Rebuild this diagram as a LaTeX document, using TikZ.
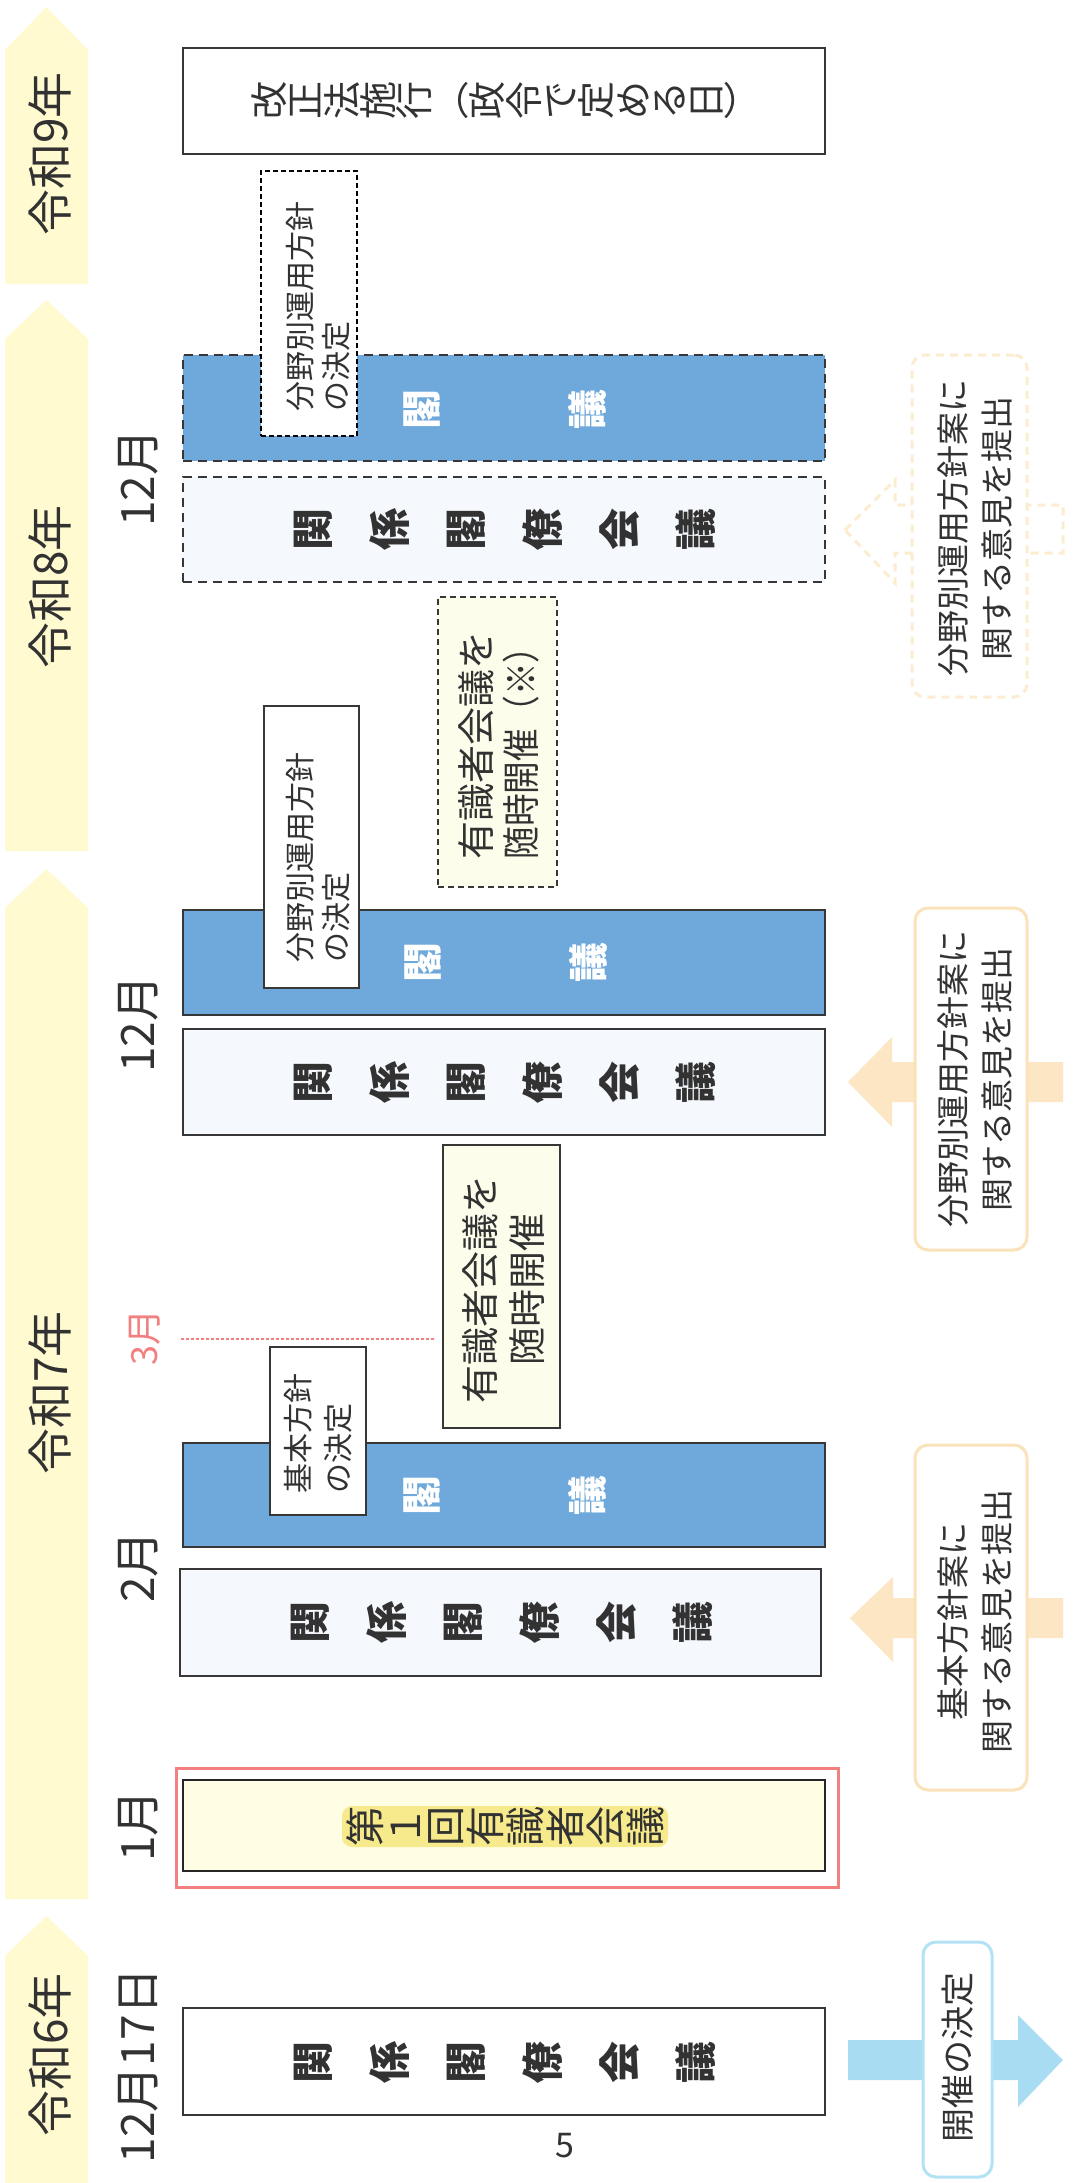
\documentclass[tikz,border=0pt]{standalone}
\usepackage{fontspec}
\usepackage{graphicx}
\setmainfont{Noto Sans CJK JP}
\usetikzlibrary{fit}
\definecolor{yrcol}{RGB}{255,250,208}
\definecolor{txt}{RGB}{50,50,50}
\definecolor{bord}{RGB}{55,55,55}
\definecolor{kblue}{RGB}{111,169,220}
\definecolor{kfill}{RGB}{245,248,252}
\definecolor{cream}{RGB}{253,253,236}
\definecolor{cream2}{RGB}{255,253,228}
\definecolor{hilite}{RGB}{247,234,140}
\definecolor{salmon}{RGB}{242,128,128}
\definecolor{peach}{RGB}{252,230,195}
\definecolor{peachb}{RGB}{250,226,186}
\definecolor{peachf}{RGB}{252,237,208}
\definecolor{skyf}{RGB}{168,220,243}
\definecolor{skyb}{RGB}{180,226,245}
\tikzset{
  yrarrow/.style={fill=yrcol, draw=none},
  ytext/.style={rotate=90, inner sep=0pt, text=txt, font=\fontsize{23}{27}\selectfont},
  mainbox/.style={draw=bord, line width=1pt, inner sep=0pt},
  bigdash/.style={dash pattern=on 4.5pt off 3pt},
  vt/.style={rotate=90, align=center, inner sep=0pt, text=txt,
    execute at begin node={\lineskiplimit=-100pt\lineskip=0pt}},
  ktext/.style={vt, font={\fontsize{21}{38.3}\selectfont\bfseries}},
  gtext/.style={vt, text=white, font={\fontsize{20}{83}\selectfont\bfseries}},
  notetext/.style={vt, align=left, font={\fontsize{15}{18}\selectfont}},
  utext/.style={vt, font={\fontsize{19}{22.5}\selectfont}},
  rbox/.style={fill=white, line width=1.5pt, rounded corners=6.5pt, inner sep=0pt},
  rtext/.style={vt, font={\fontsize{16.5}{22}\selectfont}}
}
\begin{document}
\begin{tikzpicture}[x=0.5pt,y=-0.5pt]
\useasboundingbox (0,0) rectangle (1073,2183);
\fill[white] (0,0) rectangle (1073,2183);

% year arrows
\fill[yrarrow] (46.5,7) -- (88,50) -- (88,284) -- (5,284) -- (5,50) -- cycle;
\fill[yrarrow] (46.5,300) -- (88,339) -- (88,851) -- (5,851) -- (5,339) -- cycle;
\fill[yrarrow] (46.5,869) -- (88,908) -- (88,1899) -- (5,1899) -- (5,908) -- cycle;
\fill[yrarrow] (46.5,1916) -- (88,1956) -- (88,2183) -- (5,2183) -- (5,1956) -- cycle;
\node[ytext] (y9) at (50,154) {令和9年};
\node[ytext] (y8) at (50,587) {令和8年};
\node[ytext] (y7) at (50,1393) {令和7年};
\node[ytext] (y6) at (50,2055) {令和6年};

% months
\node[ytext] (m12b) at (138,478) {12月};
\node[ytext] (m12a) at (138,1024) {12月};
\node[ytext, text=salmon, font=\fontsize{18}{22}\selectfont] (m3) at (145,1337) {3月};
\node[ytext] (m2) at (138,1567) {2月};
\node[ytext] (m1) at (138,1826) {1月};
\node[ytext] (m1217) at (138,2066) {12月17日};

% Reiwa 9
\node[mainbox, fill=white, fit={(183,48) (825,154)}] (b9) {};
\node[vt, font={\fontsize{19}{18.2}\selectfont}] (b9t) at (504,101) {改\\正\\法\\施\\行\\︵\\政\\令\\で\\定\\め\\る\\日\\︶};

% Reiwa 8
\node[mainbox, bigdash, fill=kblue, fit={(183,355) (825,461)}] (g8) {};
\node[gtext] (g8t) at (505.5,409) {閣\\議};
\node[mainbox, draw=black, dash pattern=on 2.5pt off 1.5pt, fill=white, fit={(261,171) (357,436)}] (f8) {};
\node[notetext] (f8t) at (318,306) {分野別運用方針\\の決定};
\node[mainbox, bigdash, fill=kfill, fit={(183,477) (825,582)}] (k8) {};
\node[ktext] (k8t) at (505,529.5) {関\\係\\閣\\僚\\会\\議};
\node[mainbox, dash pattern=on 3pt off 2pt, fill=cream, fit={(438,597) (557,887)}] (u8) {};
\node[utext] (u8t) at (498.5,745) {有識者会議を\\\scalebox{0.86}[1]{随時開催（※）}};

% Reiwa 7 December
\node[mainbox, fill=kblue, fit={(183,910) (825,1015)}] (g7) {};
\node[gtext] (g7t) at (506.5,962) {閣\\議};
\node[mainbox, fill=white, fit={(263.5,706) (359,988)}] (f7) {};
\node[notetext] (f7t) at (318,857) {分野別運用方針\\の決定};
\node[mainbox, fill=kfill, fit={(183,1029) (825,1135)}] (k7) {};
\node[ktext] (k7t) at (505,1082) {関\\係\\閣\\僚\\会\\議};
\node[mainbox, fill=cream, fit={(443,1145) (560,1428)}] (u7) {};
\node[utext, font={\fontsize{19}{23.5}\selectfont}] (u7t) at (503.5,1289) {有識者会議を\\随時開催};

% March line
\coordinate (d1) at (181,1339);
\coordinate (d2) at (435,1339);
\draw[salmon, line width=0.6pt, dash pattern=on 1.5pt off 1pt] (d1) -- (d2);

% Reiwa 7 February
\node[mainbox, fill=kblue, fit={(183,1443) (825,1547)}] (g2) {};
\node[gtext] (g2t) at (505,1495) {閣\\議};
\node[mainbox, fill=white, fit={(270,1347) (366,1515)}] (f2) {};
\node[notetext, font={\fontsize{15}{20}\selectfont}] (f2t) at (318.5,1433) {基本方針\\の決定};
\node[mainbox, fill=kfill, fit={(180,1569) (821,1676)}] (k2) {};
\node[ktext] (k2t) at (502,1622) {関\\係\\閣\\僚\\会\\議};

% first council
\node[draw=salmon, line width=1.5pt, fill=white, inner sep=0pt, fit={(176.5,1768) (838,1887)}] (o1) {};
\node[mainbox, draw=black!85, line width=1.2pt, fill=cream2, fit={(183,1780) (825,1871)}] (i1) {};
\node[fill=hilite, rounded corners=5pt, inner sep=0pt, fit={(342,1806) (668,1847)}] (hl) {};
\node[vt, font={\fontsize{20}{20}\selectfont}] (t1) at (505,1826.5) {第\\１\\回\\有\\識\\者\\会\\議};

% Reiwa 6
\node[mainbox, fill=white, fit={(183,2008) (825,2115)}] (k6) {};
\node[ktext] (k6t) at (505,2062) {関\\係\\閣\\僚\\会\\議};
\node[text=txt, inner sep=0pt, font=\fontsize{17}{20}\selectfont] (pg) at (565,2146) {5};

% right column
\draw[peachf, line width=1.5pt, dash pattern=on 4pt off 3pt, fill=white]
  (845,530) -- (895,480) -- (895,505) -- (1063,505) -- (1063,553) -- (895,553) -- (895,583) -- cycle;
\node[rbox, draw=peachf, dash pattern=on 4pt off 3pt, fit={(912,355) (1027,697)}] (r8) {};
\node[rtext] (r8t) at (975,528) {分野別運用方針案に\\関する意見を提出};

\fill[peach] (848,1082) -- (892,1037) -- (892,1062) -- (1063,1062) -- (1063,1102) -- (892,1102) -- (892,1127) -- cycle;
\node[rbox, draw=peachb, fit={(915,908) (1027,1250)}] (r7a) {};
\node[rtext] (r7at) at (975,1079) {分野別運用方針案に\\関する意見を提出};

\fill[peach] (850,1618) -- (893,1577) -- (893,1598) -- (1063,1598) -- (1063,1638) -- (893,1638) -- (893,1662) -- cycle;
\node[rbox, draw=peachb, fit={(915,1445) (1027,1790)}] (r7b) {};
\node[rtext] (r7bt) at (975,1621) {基本方針案に\\関する意見を提出};

\fill[skyf] (848,2040) -- (1018,2040) -- (1018,2015) -- (1063,2060) -- (1018,2107) -- (1018,2080) -- (848,2080) -- cycle;
\node[rbox, draw=skyb, fit={(923,1942) (992,2177)}] (r6) {};
\node[rtext, font={\fontsize{17}{22}\selectfont}] (r6t) at (958,2057) {開催の決定};
\end{tikzpicture}
\end{document}
